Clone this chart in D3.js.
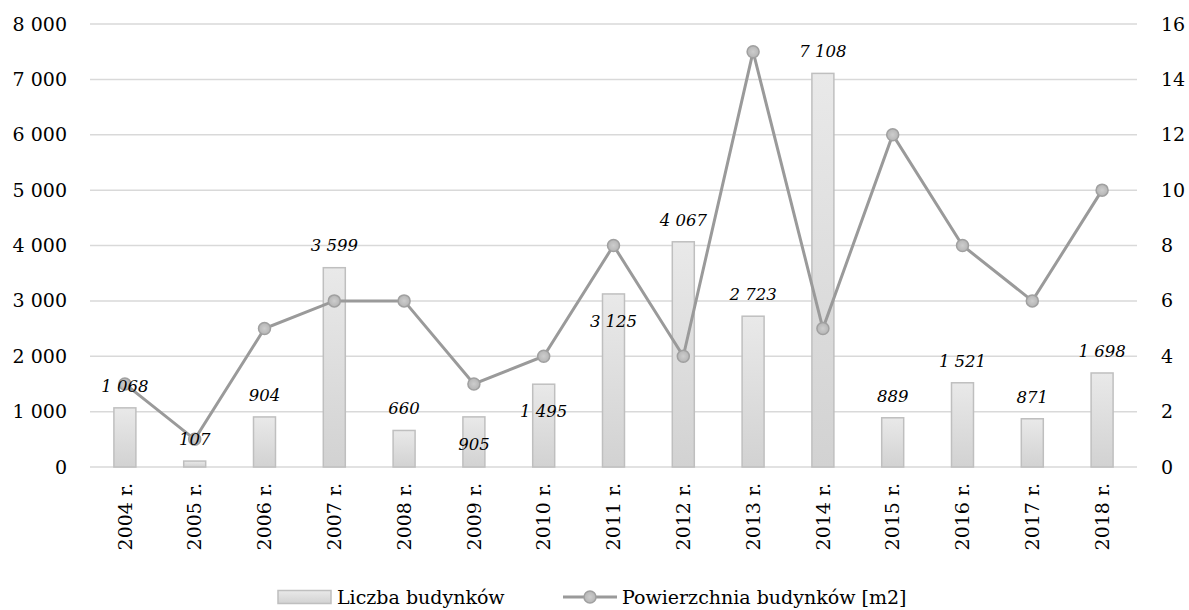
<!DOCTYPE html>
<html lang="pl">
<head>
<meta charset="utf-8">
<script src="https://d3js.org/d3.v7.min.js"></script>
<style>
body { margin: 0; background: #fff; }
svg text { font-family: "DejaVu Serif", serif; fill: #000; }
.grid line { stroke: #d9d9d9; stroke-width: 1.5; }
.label { font-style: italic; font-size: 16.5px; }
</style>
</head>
<body>
<script>
// data
var years = ["2004 r.", "2005 r.", "2006 r.", "2007 r.", "2008 r.", "2009 r.", "2010 r.", "2011 r.",
             "2012 r.", "2013 r.", "2014 r.", "2015 r.", "2016 r.", "2017 r.", "2018 r."];
var liczba = [1068, 107, 904, 3599, 660, 905, 1495, 3125, 4067, 2723, 7108, 889, 1521, 871, 1698];
var powierzchnia = [3, 1, 5, 6, 6, 3, 4, 8, 4, 15, 5, 12, 8, 6, 10];
var leftTicks = [0, 1000, 2000, 3000, 4000, 5000, 6000, 7000, 8000];
var rightTicks = [0, 2, 4, 6, 8, 10, 12, 14, 16];
// labels Excel pushed down into the bar
var labelsInside = ["2009 r.", "2010 r.", "2011 r."];

var W = 1189, H = 610;
var margin = {top: 24, right: 52, bottom: 143, left: 90};
var width = W - margin.left - margin.right,
    height = H - margin.top - margin.bottom;

var fmt = function(v) { return d3.format(",")(v).replace(/,/g, " "); };

var svg = d3.select("body").append("svg")
    .attr("width", W)
    .attr("height", H);

var defs = svg.append("defs");
var grad = defs.append("linearGradient").attr("id", "barGrad")
    .attr("x1", 0).attr("y1", 0).attr("x2", 0).attr("y2", 1);
grad.append("stop").attr("offset", "0%").attr("stop-color", "#e9e9e9");
grad.append("stop").attr("offset", "100%").attr("stop-color", "#d2d2d2");
var mgrad = defs.append("radialGradient").attr("id", "dotGrad");
mgrad.append("stop").attr("offset", "0%").attr("stop-color", "#cdcdcd");
mgrad.append("stop").attr("offset", "100%").attr("stop-color", "#b5b5b5");

var g = svg.append("g").attr("transform", "translate(" + margin.left + "," + margin.top + ")");

var x = d3.scaleBand().domain(years).range([0, width]).paddingInner(0.685).paddingOuter(0.3425);
var y = d3.scaleLinear().domain([0, 8000]).range([height, 0]);
var y2 = d3.scaleLinear().domain([0, 16]).range([height, 0]);

// gridlines
g.append("g").attr("class", "grid")
  .selectAll("line").data(leftTicks).enter().append("line")
    .attr("x1", 0).attr("x2", width)
    .attr("y1", function(d) { return y(d); })
    .attr("y2", function(d) { return y(d); });

// left axis
var ax1 = g.append("g")
    .call(d3.axisLeft(y).tickValues(leftTicks).tickFormat(fmt).tickSize(0).tickPadding(23));
ax1.select(".domain").remove();
ax1.selectAll("text").style("font-size", "19px");

// right axis
var ax2 = g.append("g")
    .attr("transform", "translate(" + width + ",0)")
    .call(d3.axisRight(y2).tickValues(rightTicks).tickSize(0).tickPadding(24));
ax2.select(".domain").remove();
ax2.selectAll("text").style("font-size", "19px");

// x axis
var ax3 = g.append("g")
    .attr("transform", "translate(0," + height + ")")
    .call(d3.axisBottom(x).tickSize(0));
ax3.select(".domain").remove();
ax3.selectAll("text")
    .style("font-size", "19px")
    .attr("text-anchor", "end")
    .attr("transform", "rotate(-90)")
    .attr("x", -16)
    .attr("y", 0)
    .attr("dy", "0.35em");

// bars
g.selectAll(".bar").data(liczba).enter().append("rect")
    .attr("class", "bar")
    .attr("x", function(d, i) { return x(years[i]); })
    .attr("y", function(d) { return y(d); })
    .attr("width", x.bandwidth())
    .attr("height", function(d) { return height - y(d); })
    .attr("fill", "url(#barGrad)")
    .attr("stroke", "#bfbfbf")
    .attr("stroke-width", 1.5);

// line
var line = d3.line()
    .x(function(d, i) { return x(years[i]) + x.bandwidth() / 2; })
    .y(function(d) { return y2(d); });

g.append("path")
    .datum(powierzchnia)
    .attr("d", line)
    .attr("fill", "none")
    .attr("stroke", "#9a9a9a")
    .attr("stroke-width", 3);

g.selectAll(".dot").data(powierzchnia).enter().append("circle")
    .attr("class", "dot")
    .attr("cx", function(d, i) { return x(years[i]) + x.bandwidth() / 2; })
    .attr("cy", function(d) { return y2(d); })
    .attr("r", 6)
    .attr("fill", "url(#dotGrad)")
    .attr("stroke", "#a0a0a0")
    .attr("stroke-width", 1.5);

// data labels
g.selectAll(".label").data(liczba).enter().append("text")
    .attr("class", "label")
    .attr("text-anchor", "middle")
    .attr("x", function(d, i) { return x(years[i]) + x.bandwidth() / 2; })
    .attr("y", function(d, i) {
      return labelsInside.indexOf(years[i]) >= 0 ? y(d) + 27 : y(d) - 22;
    })
    .attr("dy", "0.35em")
    .text(fmt);

// legend
var leg = svg.append("g").attr("transform", "translate(0,597)");
leg.append("rect")
    .attr("x", 278).attr("y", -6.5).attr("width", 53).attr("height", 13)
    .attr("fill", "url(#barGrad)").attr("stroke", "#bfbfbf").attr("stroke-width", 1.5);
leg.append("text").attr("x", 337).attr("y", 0).attr("dy", "0.35em")
    .style("font-size", "19px").text("Liczba budynków");
leg.append("line")
    .attr("x1", 563).attr("x2", 617).attr("y1", 0).attr("y2", 0)
    .attr("stroke", "#9a9a9a").attr("stroke-width", 3);
leg.append("circle").attr("cx", 590).attr("cy", 0).attr("r", 6)
    .attr("fill", "url(#dotGrad)").attr("stroke", "#a0a0a0").attr("stroke-width", 1.5);
leg.append("text").attr("x", 622).attr("y", 0).attr("dy", "0.35em")
    .style("font-size", "19px").text("Powierzchnia budynków [m2]");
</script>
</body>
</html>
